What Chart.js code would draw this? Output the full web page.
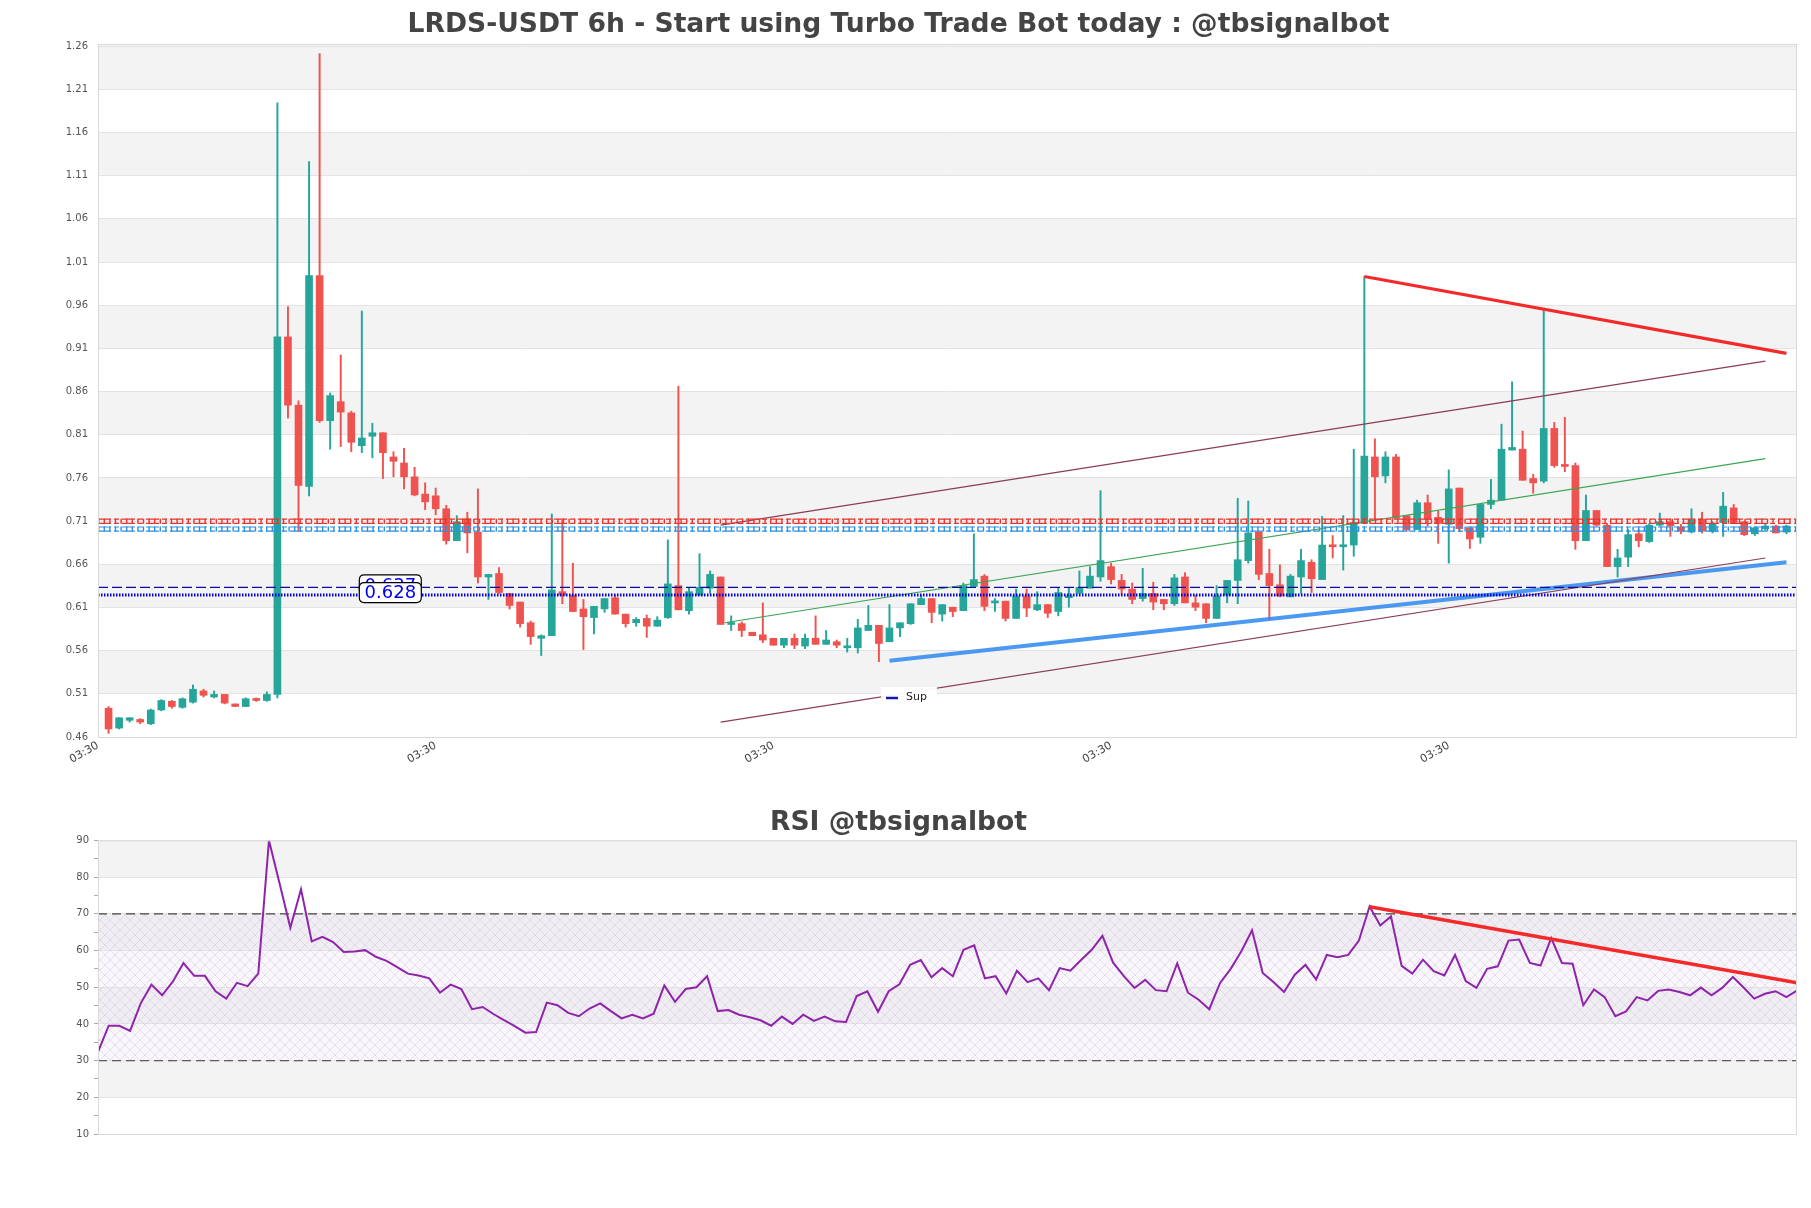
<!DOCTYPE html>
<html>
<head>
<meta charset="utf-8">
<script src="https://cdn.jsdelivr.net/npm/chart.js@4.4.1/dist/chart.umd.min.js"></script>
<style>
body { margin: 0; background: #fff; width: 1811px; height: 1208px; overflow: hidden; }
#mainBox { position: absolute; left: 0; top: 0; width: 1811px; height: 790px; }
#rsiBox { position: absolute; left: 0; top: 790px; width: 1811px; height: 418px; }
</style>
</head>
<body>
<div id="mainBox"><canvas id="priceChart"></canvas></div>
<div id="rsiBox"><canvas id="rsiChart"></canvas></div>
<script>
// candles, one per 6h bar
var opens = [0.497,0.474,0.483,0.484,0.479,0.495,0.505,0.498,0.504,0.517,0.510,0.513,0.502,0.499,0.508,0.506,0.513,0.927,0.848,0.754,
  0.998,0.830,0.852,0.839,0.801,0.812,0.816,0.788,0.781,0.765,0.745,0.743,0.728,0.691,0.716,0.701,0.649,0.653,0.630,0.620,
  0.596,0.578,0.581,0.632,0.628,0.612,0.602,0.612,0.625,0.606,0.596,0.601,0.592,0.602,0.639,0.610,0.628,0.636,0.649,0.594,
  0.595,0.585,0.582,0.578,0.570,0.578,0.569,0.578,0.571,0.574,0.567,0.567,0.587,0.593,0.574,0.590,0.595,0.617,0.624,0.606,
  0.614,0.610,0.638,0.650,0.619,0.621,0.601,0.627,0.611,0.617,0.609,0.625,0.630,0.636,0.649,0.661,0.645,0.635,0.624,0.630,
  0.623,0.618,0.649,0.619,0.618,0.601,0.628,0.645,0.668,0.701,0.653,0.640,0.626,0.649,0.666,0.646,0.686,0.684,0.686,0.711,
  0.788,0.766,0.788,0.720,0.704,0.735,0.718,0.710,0.752,0.706,0.695,0.733,0.738,0.796,0.797,0.763,0.760,0.821,0.778,0.778,
  0.691,0.726,0.709,0.661,0.672,0.699,0.690,0.709,0.713,0.707,0.701,0.716,0.702,0.712,0.729,0.713,0.699,0.705,0.708,0.701];
var highs = [0.499,0.486,0.486,0.485,0.496,0.507,0.506,0.509,0.524,0.519,0.517,0.513,0.502,0.509,0.509,0.516,1.198,0.962,0.853,1.130,
  1.255,0.862,0.906,0.841,0.957,0.827,0.816,0.794,0.798,0.776,0.758,0.752,0.732,0.720,0.724,0.751,0.652,0.660,0.630,0.620,
  0.598,0.582,0.722,0.715,0.665,0.623,0.615,0.624,0.628,0.606,0.602,0.605,0.603,0.692,0.870,0.636,0.676,0.656,0.649,0.604,
  0.597,0.585,0.619,0.578,0.578,0.583,0.583,0.604,0.587,0.576,0.578,0.600,0.616,0.593,0.617,0.596,0.618,0.628,0.624,0.617,
  0.614,0.642,0.699,0.652,0.624,0.621,0.635,0.635,0.632,0.617,0.637,0.637,0.656,0.661,0.749,0.665,0.652,0.642,0.659,0.643,
  0.623,0.652,0.654,0.628,0.618,0.639,0.645,0.740,0.737,0.701,0.681,0.663,0.652,0.681,0.669,0.719,0.697,0.720,0.797,0.997,
  0.809,0.794,0.791,0.720,0.738,0.744,0.725,0.773,0.752,0.706,0.733,0.762,0.826,0.875,0.818,0.768,0.958,0.828,0.834,0.781,
  0.744,0.726,0.711,0.681,0.704,0.704,0.711,0.723,0.716,0.710,0.728,0.724,0.713,0.747,0.733,0.713,0.707,0.711,0.709,0.709];
var lows = [0.468,0.473,0.481,0.479,0.478,0.494,0.497,0.497,0.503,0.510,0.509,0.502,0.499,0.499,0.505,0.505,0.509,0.833,0.702,0.743,
  0.828,0.797,0.800,0.794,0.793,0.787,0.763,0.765,0.751,0.743,0.727,0.721,0.687,0.691,0.677,0.642,0.623,0.630,0.612,0.591,
  0.571,0.558,0.581,0.618,0.609,0.565,0.583,0.608,0.606,0.591,0.592,0.579,0.592,0.601,0.611,0.606,0.628,0.630,0.594,0.587,
  0.580,0.581,0.573,0.570,0.567,0.566,0.566,0.571,0.571,0.567,0.562,0.561,0.587,0.551,0.574,0.580,0.594,0.617,0.596,0.598,
  0.603,0.610,0.638,0.610,0.609,0.598,0.601,0.603,0.610,0.602,0.604,0.614,0.630,0.636,0.644,0.641,0.629,0.618,0.621,0.611,
  0.611,0.616,0.619,0.610,0.596,0.601,0.619,0.618,0.665,0.646,0.600,0.626,0.626,0.630,0.631,0.646,0.671,0.657,0.673,0.711,
  0.716,0.758,0.717,0.702,0.704,0.708,0.688,0.665,0.702,0.682,0.688,0.728,0.738,0.796,0.761,0.746,0.758,0.776,0.771,0.681,
  0.691,0.708,0.661,0.649,0.661,0.684,0.689,0.708,0.696,0.699,0.700,0.700,0.700,0.696,0.712,0.697,0.697,0.703,0.700,0.699];
var closes = [0.473,0.486,0.486,0.481,0.495,0.506,0.499,0.508,0.519,0.512,0.513,0.503,0.499,0.508,0.506,0.513,0.927,0.848,0.755,0.998,
  0.830,0.859,0.840,0.805,0.810,0.816,0.793,0.783,0.765,0.744,0.736,0.728,0.691,0.713,0.700,0.649,0.652,0.631,0.616,0.595,
  0.580,0.581,0.634,0.628,0.609,0.603,0.615,0.624,0.606,0.595,0.600,0.592,0.599,0.641,0.611,0.632,0.637,0.652,0.594,0.596,
  0.587,0.581,0.576,0.570,0.578,0.570,0.578,0.571,0.576,0.570,0.567,0.590,0.593,0.572,0.590,0.596,0.618,0.624,0.608,0.617,
  0.609,0.639,0.646,0.615,0.620,0.601,0.627,0.613,0.617,0.607,0.631,0.626,0.637,0.650,0.668,0.646,0.635,0.623,0.630,0.620,
  0.618,0.648,0.619,0.614,0.601,0.627,0.645,0.669,0.700,0.652,0.639,0.627,0.650,0.668,0.647,0.686,0.684,0.686,0.712,0.789,
  0.765,0.788,0.717,0.704,0.735,0.716,0.711,0.751,0.705,0.693,0.733,0.738,0.797,0.799,0.761,0.758,0.821,0.778,0.777,0.691,
  0.726,0.709,0.661,0.671,0.698,0.691,0.709,0.713,0.708,0.702,0.715,0.702,0.711,0.731,0.712,0.698,0.706,0.708,0.700,0.708];

var rsiValues = [32.4,39.5,39.5,38.1,45.6,50.7,47.8,51.5,56.6,53.1,53.1,48.9,46.9,51.2,50.3,53.7,90.0,78.2,66.2,76.7,
  62.5,63.7,62.3,59.6,59.7,60.1,58.3,57.2,55.5,53.7,53.2,52.4,48.5,50.7,49.5,44.0,44.6,42.7,41.0,39.4,
  37.6,37.8,45.8,45.1,43.0,42.1,44.2,45.6,43.5,41.5,42.5,41.5,42.8,50.5,46.0,49.5,50.0,53.0,43.5,43.8,
  42.5,41.8,41.0,39.5,42.0,40.0,42.5,40.8,42.0,40.7,40.5,47.6,48.9,43.3,48.9,50.8,56.1,57.4,52.7,55.2,
  53.0,60.2,61.4,52.4,53.0,48.3,54.5,51.4,52.4,49.2,55.2,54.5,57.4,60.2,64.0,56.7,53.0,49.8,52.0,49.2,
  48.9,56.5,48.5,46.6,44.0,51.1,55.0,59.8,65.5,53.9,51.4,48.7,53.4,56.1,52.1,58.8,58.2,58.8,62.7,72.0,
  66.8,69.3,55.8,53.7,57.5,54.4,53.2,58.8,51.7,49.8,55.0,55.7,62.7,63.0,56.6,55.9,63.4,56.6,56.4,45.1,
  49.4,47.3,42.1,43.4,47.3,46.4,49.0,49.4,48.7,47.8,49.9,47.8,49.8,52.8,49.9,46.9,48.2,48.9,47.3,49.1];

// axis ticks
var priceTicks = [0.4637,0.5137,0.5637,0.6137,0.6637,0.7137,0.7637,0.8137,0.8637,0.9137,0.9637,1.0137,1.0637,1.1137,1.1637,1.2137,1.2637];
var timeTickPos = [-1, 31, 63, 95, 127];
var timeTickLabels = ['03:30', '03:30', '03:30', '03:30', '03:30'];
var rsiBandTicks = [10, 20, 30, 40, 50, 60, 70, 80, 90];

// levels and trend lines: [index, value]
var resistZone = 0.7135;
var supportZone = 0.7045;
var dashLevel = 0.637;
var dotLevel = 0.628;
var resistLine = [[119, 0.997], [159, 0.908]];
var channelTop = [[58, 0.709], [157, 0.899]];
var channelBottom = [[58, 0.481], [157, 0.671]];
var channelMid = [[58.4, 0.596], [157, 0.786]];
var supLine = [[74, 0.552], [159, 0.666]];
var rsiTrend = [[119, 71.9], [159, 51.2]];
var rsiUpper = 70;
var rsiLower = 30;

var green = '#26a69a';
var red = '#ef5350';

var idx = closes.map(function(c, i) { return i; });
var candleColors = idx.map(function(i) { return closes[i] >= opens[i] ? green : red; });

function seg(pts) {
  return pts.map(function(p) { return {x: p[0], y: p[1]}; });
}
function flat(v, a, b) {
  return [{x: a, y: v}, {x: b, y: v}];
}

var bandPlugin = {
  id: 'bands',
  beforeDraw: function(chart, args, opts) {
    var ctx = chart.ctx, area = chart.chartArea, ys = chart.scales.y;
    var t = opts.ticks;
    ctx.save();
    ctx.fillStyle = '#f3f3f3';
    for (var k = 0; k < t.length - 1; k++) {
      if (k % 2 === 1) {
        var top = ys.getPixelForValue(t[k + 1]);
        if (k === t.length - 2) top = area.top;
        var bot = ys.getPixelForValue(t[k]);
        ctx.fillRect(area.left, top, area.right - area.left, bot - top);
      }
    }
    ctx.restore();
  },
  afterDraw: function(chart) {
    var ctx = chart.ctx, area = chart.chartArea;
    ctx.save();
    ctx.strokeStyle = '#d9d9d9';
    ctx.lineWidth = 1;
    ctx.strokeRect(area.left + 0.5, area.top + 0.5, area.right - area.left - 1, area.bottom - area.top);
    ctx.restore();
  }
};

function roundBox(ctx, x, y, w, h, r) {
  ctx.beginPath();
  ctx.moveTo(x + r, y);
  ctx.lineTo(x + w - r, y);
  ctx.quadraticCurveTo(x + w, y, x + w, y + r);
  ctx.lineTo(x + w, y + h - r);
  ctx.quadraticCurveTo(x + w, y + h, x + w - r, y + h);
  ctx.lineTo(x + r, y + h);
  ctx.quadraticCurveTo(x, y + h, x, y + h - r);
  ctx.lineTo(x, y + r);
  ctx.quadraticCurveTo(x, y, x + r, y);
  ctx.closePath();
}

var labelPlugin = {
  id: 'levelLabels',
  afterDatasetsDraw: function(chart) {
    var ctx = chart.ctx, xs = chart.scales.x, ys = chart.scales.y, area = chart.chartArea;
    ctx.save();
    ctx.font = '18px "DejaVu Sans", sans-serif';
    ctx.textAlign = 'center';
    ctx.textBaseline = 'middle';
    [dashLevel, dotLevel].forEach(function(v) {
      var cx = xs.getPixelForValue(26.7);
      var cy = ys.getPixelForValue(v) - 2.5;
      roundBox(ctx, cx - 31, cy - 10, 62, 20, 5);
      ctx.fillStyle = '#ffffff';
      ctx.fill();
      ctx.strokeStyle = '#000000';
      ctx.lineWidth = 1.2;
      ctx.stroke();
      ctx.fillStyle = '#0000ee';
      ctx.fillText(v.toFixed(3), cx, cy + 1);
    });
    // legend box
    var lx = area.left + 783, ly = area.bottom - 50;
    ctx.fillStyle = 'rgba(255,255,255,0.95)';
    ctx.fillRect(lx, ly, 56, 20);
    ctx.strokeStyle = '#1515b5';
    ctx.lineWidth = 2.5;
    ctx.beginPath();
    ctx.moveTo(lx + 5, ly + 11);
    ctx.lineTo(lx + 17, ly + 11);
    ctx.stroke();
    ctx.fillStyle = '#222';
    ctx.font = '11px "DejaVu Sans", sans-serif';
    ctx.textAlign = 'left';
    ctx.fillText('Sup', lx + 25, ly + 10);
    ctx.restore();
  }
};

var lineBase = {type: 'line', pointRadius: 0, fill: false, tension: 0};

function lineSet(data, color, width, extra) {
  var d = Object.assign({}, lineBase, {data: data, borderColor: color, borderWidth: width, order: 1});
  return Object.assign(d, extra || {});
}

// zone lines: two thin rails plus short cross bars, like the chain pattern
var railGap = 0.0024;
function zoneSets(v, color) {
  return [
    lineSet(flat(v + railGap, -1, 160), color, 1.2, {borderDash: [13, 3, 5, 3]}),
    lineSet(flat(v - railGap, -1, 160), color, 1.2, {borderDash: [13, 3, 5, 3]}),
    lineSet(flat(v, -1, 160), color, 5, {borderDash: [1.4, 4.2]})
  ];
}

var priceDatasets = [
  {type: 'bar', label: 'wick', data: idx.map(function(i) { return {x: i, y: [lows[i], highs[i]]}; }),
    backgroundColor: candleColors, barThickness: 1.3, grouped: false, order: 10},
  {type: 'bar', label: 'body', data: idx.map(function(i) { return {x: i, y: [opens[i], closes[i]]}; }),
    backgroundColor: candleColors, barThickness: 7, grouped: false, minBarLength: 2, order: 9}
].concat(zoneSets(resistZone, '#e8332f'), zoneSets(supportZone, '#2c8fe0'), [
  lineSet(flat(dashLevel, -1, 160), '#0b0b9e', 1.4, {borderDash: [10, 4]}),
  lineSet(flat(dotLevel, -1, 160), '#0000e0', 3, {borderDash: [1.5, 1.5]}),
  lineSet(seg(channelTop), '#8b3d55', 1.2),
  lineSet(seg(channelBottom), '#8b3d55', 1.2),
  lineSet(seg(channelMid), '#3aa655', 1.2),
  lineSet(seg(supLine), 'rgba(45,135,240,0.85)', 4),
  lineSet(seg(resistLine), '#f42a2a', 3.2)
]);

var fontFamily = '"DejaVu Sans", sans-serif';

new Chart(document.getElementById('priceChart'), {
  type: 'bar',
  data: {datasets: priceDatasets},
  options: {
    responsive: true,
    maintainAspectRatio: false,
    animation: false,
    layout: {padding: {left: 0, right: 14, top: 0, bottom: 0}},
    plugins: {
      legend: {display: false},
      tooltip: {enabled: false},
      title: {
        display: true,
        text: 'LRDS-USDT 6h - Start using Turbo Trade Bot today : @tbsignalbot',
        color: '#444444',
        font: {family: fontFamily, size: 26.6, weight: 'bold'},
        padding: {top: 9, bottom: 3}
      },
      bands: {ticks: priceTicks}
    },
    scales: {
      x: {
        type: 'linear',
        min: -1,
        max: 160,
        offset: false,
        grid: {display: false, offset: false, drawTicks: false},
        border: {display: false},
        afterBuildTicks: function(scale) {
          scale.ticks = timeTickPos.map(function(v) { return {value: v}; });
        },
        afterFit: function(scale) { scale.height = 53; },
        ticks: {
          autoSkip: false,
          minRotation: 30,
          maxRotation: 30,
          padding: 2,
          color: '#444444',
          font: {family: fontFamily, size: 11},
          callback: function(v, i) { return timeTickLabels[i]; }
        }
      },
      y: {
        type: 'linear',
        min: 0.4637,
        max: 1.2663,
        afterBuildTicks: function(scale) {
          scale.ticks = priceTicks.map(function(v) { return {value: v}; });
        },
        afterFit: function(scale) { scale.width = 98; },
        grid: {color: '#e3e3e3', drawTicks: false},
        border: {display: false},
        ticks: {
          padding: 10,
          color: '#555555',
          font: {family: fontFamily, size: 10},
          callback: function(v) { return Number(v).toFixed(2); }
        }
      }
    }
  },
  plugins: [bandPlugin, labelPlugin]
});

function makeHatch() {
  var c = document.createElement('canvas');
  c.width = 10;
  c.height = 10;
  var g = c.getContext('2d');
  g.fillStyle = 'rgba(238,230,244,0.3)';
  g.fillRect(0, 0, 10, 10);
  g.strokeStyle = 'rgba(175,160,195,0.35)';
  g.lineWidth = 0.8;
  g.beginPath();
  g.moveTo(0, 0); g.lineTo(10, 10);
  g.moveTo(10, 0); g.lineTo(0, 10);
  g.stroke();
  return g.createPattern(c, 'repeat');
}

new Chart(document.getElementById('rsiChart'), {
  type: 'line',
  data: {
    datasets: [
      {label: 'RSI', data: idx.map(function(i) { return {x: i, y: rsiValues[i]}; }),
        borderColor: '#8e24aa', borderWidth: 2, pointRadius: 0, tension: 0, fill: false, order: 1},
      {label: 'upper', data: flat(rsiUpper, 0, 159), borderColor: '#444444', borderWidth: 1.3,
        borderDash: [9, 5], pointRadius: 0, fill: '+1', backgroundColor: makeHatch(), order: 3},
      {label: 'lower', data: flat(rsiLower, 0, 159), borderColor: '#444444', borderWidth: 1.3,
        borderDash: [9, 5], pointRadius: 0, fill: false, order: 3},
      {label: 'trend', data: seg(rsiTrend), borderColor: '#f42a2a', borderWidth: 3.5,
        pointRadius: 0, fill: false, order: 0}
    ]
  },
  options: {
    responsive: true,
    maintainAspectRatio: false,
    animation: false,
    layout: {padding: {left: 0, right: 14, top: 0, bottom: 0}},
    plugins: {
      legend: {display: false},
      tooltip: {enabled: false},
      title: {
        display: true,
        text: 'RSI @tbsignalbot',
        color: '#444444',
        font: {family: fontFamily, size: 26.6, weight: 'bold'},
        padding: {top: 17, bottom: 1.5}
      },
      bands: {ticks: rsiBandTicks}
    },
    scales: {
      x: {
        type: 'linear',
        min: 0,
        max: 159,
        grid: {display: false},
        border: {display: false},
        ticks: {display: false},
        afterFit: function(scale) { scale.height = 74; }
      },
      y: {
        type: 'linear',
        min: 10,
        max: 90,
        afterFit: function(scale) { scale.width = 98; },
        grid: {
          color: function(c) { return c.tick && c.tick.value % 10 === 0 ? '#e3e3e3' : 'rgba(0,0,0,0)'; },
          tickColor: '#aaaaaa',
          tickLength: 4
        },
        border: {display: false},
        ticks: {
          stepSize: 5,
          padding: 5,
          color: '#555555',
          font: {family: fontFamily, size: 10},
          callback: function(v) { return v % 10 === 0 ? v : ''; }
        }
      }
    }
  },
  plugins: [bandPlugin]
});
</script>
</body>
</html>
